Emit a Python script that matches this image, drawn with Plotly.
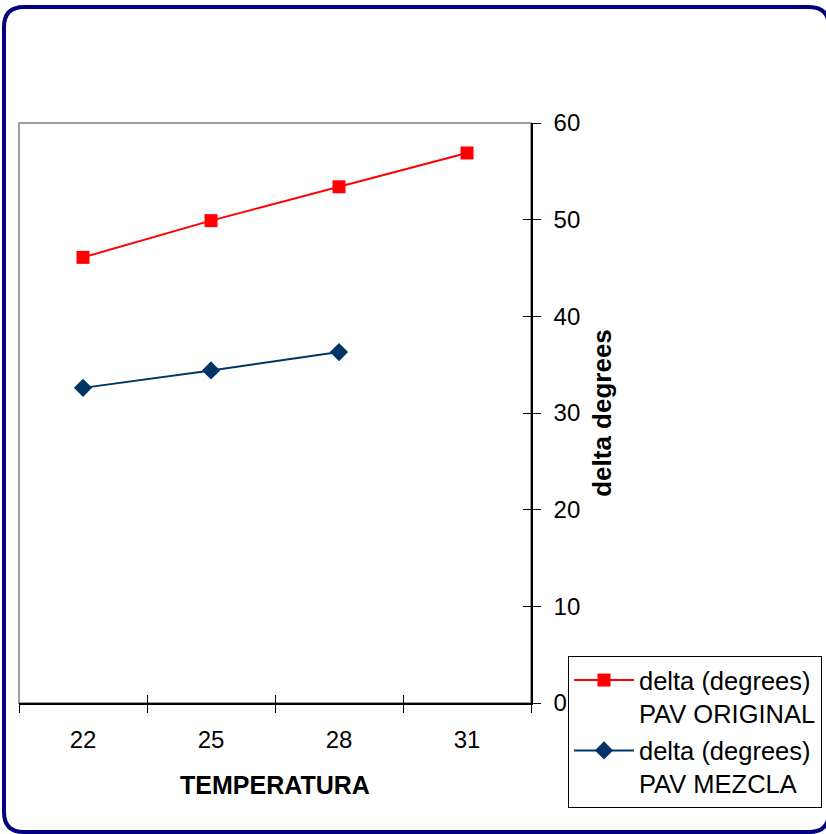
import plotly.graph_objects as go

# Temperature categories and measured phase-angle deltas
temperatura = ["22", "25", "28", "31"]
delta_original = [46.1, 49.9, 53.4, 56.9]
delta_mezcla = [32.6, 34.4, 36.3, None]

serie_original = "delta (degrees)<br>PAV ORIGINAL"
serie_mezcla = "delta (degrees)<br>PAV MEZCLA"

W, H = 826, 834
ML, MR, MT, MB = 19, 295, 123, 131
PW, PH = W - ML - MR, H - MT - MB
FONT = "Liberation Sans, Arial, sans-serif"


def px_x(px):
    return (px - ML) / PW


def px_y(py):
    return (H - MB - py) / PH


fig = go.Figure()

fig.add_trace(go.Scatter(
    x=temperatura, y=delta_original, name=serie_original,
    mode="lines+markers", legendgroup="a",
    line=dict(color="#FF0000", width=2),
    marker=dict(symbol="square", size=13, color="#FF0000"),
))
fig.add_trace(go.Scatter(
    x=temperatura, y=delta_mezcla, name=serie_mezcla,
    mode="lines+markers", legendgroup="b",
    line=dict(color="#003366", width=2),
    marker=dict(symbol="diamond", size=14, color="#003366"),
))
# helper trace so the inner tick axes are drawn
fig.add_trace(go.Scatter(
    x=[None], y=[None], xaxis="x2", yaxis="y2",
    showlegend=False, hoverinfo="skip",
))

# rounded outer frame of the chart
x0, x1 = px_x(4), px_x(829)
y0, y1 = px_y(832), px_y(7)
rx, ry = 20 / PW, 20 / PH
frame = (
    f"M{x0 + rx},{y1} L{x1 - rx},{y1} Q{x1},{y1} {x1},{y1 - ry} "
    f"L{x1},{y0 + ry} Q{x1},{y0} {x1 - rx},{y0} "
    f"L{x0 + rx},{y0} Q{x0},{y0} {x0},{y0 + ry} "
    f"L{x0},{y1 - ry} Q{x0},{y1} {x0 + rx},{y1} Z"
)

fig.update_layout(
    width=W, height=H,
    margin=dict(l=ML, r=MR, t=MT, b=MB, autoexpand=False),
    paper_bgcolor="white", plot_bgcolor="white",
    font=dict(family=FONT, size=24, color="black"),
    showlegend=True,
    legend=dict(
        x=px_x(568), y=px_y(656), xanchor="left", yanchor="top",
        bgcolor="white", bordercolor="black", borderwidth=1,
        font=dict(family=FONT, size=25.5, color="black"),
        valign="top", tracegroupgap=1, traceorder="grouped",
        itemwidth=60,
    ),
    xaxis=dict(
        type="category", range=[-0.5, 3.5],
        tickson="boundaries", ticks="outside", ticklen=8,
        tickcolor="black", showline=True, linecolor="black", linewidth=1.5,
        showgrid=False, zeroline=False, automargin=False,
        tickfont=dict(size=24), ticklabelstandoff=14,
        title=dict(text="<b>TEMPERATURA</b>", font=dict(size=25), standoff=25),
    ),
    yaxis=dict(
        side="right", range=[0, 60], dtick=10,
        ticks="outside", ticklen=8, tickcolor="black",
        showline=True, linecolor="black", linewidth=1.5,
        showgrid=False, zeroline=False, automargin=False,
        tickfont=dict(size=24), ticklabelstandoff=8,
        title=dict(text="<b>delta degrees</b>", font=dict(size=26), standoff=14),
    ),
    xaxis2=dict(
        overlaying="x", range=[-0.5, 3.5], anchor="y2",
        tickvals=[-0.5, 0.5, 1.5, 2.5, 3.5], ticks="inside", ticklen=8,
        tickcolor="black", showticklabels=False, showgrid=False,
        zeroline=False, showline=False,
    ),
    yaxis2=dict(
        overlaying="y", side="right", range=[0, 60], anchor="x2",
        tickvals=[0, 10, 20, 30, 40, 50, 60], ticks="inside", ticklen=8,
        tickcolor="black", showticklabels=False, showgrid=False,
        zeroline=False, showline=False,
    ),
    shapes=[
        dict(type="rect", xref="paper", yref="paper", x0=0, x1=1, y0=0, y1=1,
             line=dict(color="#808080", width=1.5), layer="below"),
        dict(type="path", xref="paper", yref="paper", path=frame,
             line=dict(color="#000080", width=4)),
    ],
)

fig.write_html("out.html")
